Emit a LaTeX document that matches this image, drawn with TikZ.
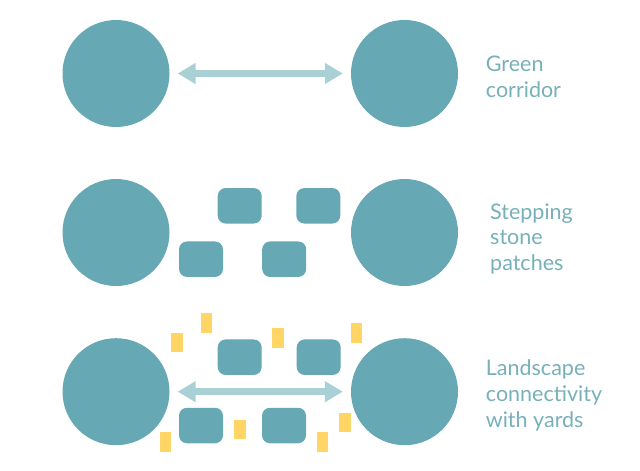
\documentclass[tikz,border=0pt]{standalone}
\usepackage{fontspec}
\setmainfont{Lato}
\usetikzlibrary{arrows.meta}
\definecolor{teal1}{RGB}{102,168,179}
\definecolor{arrowc}{RGB}{168,208,213}
\definecolor{yel}{RGB}{255,214,102}
\definecolor{txt}{RGB}{118,176,185}
\tikzset{
  core/.style={circle,fill=teal1,minimum size=107pt,inner sep=0pt},
  patch/.style={rectangle,fill=teal1,rounded corners=8pt,minimum width=44pt,minimum height=35.5pt,inner sep=0pt},
  yard/.style={rectangle,fill=yel,minimum width=11.5pt,minimum height=19.5pt,inner sep=0pt},
  corr/.style={draw=arrowc,line width=7pt,{Triangle[length=18pt,width=20pt]}-{Triangle[length=18pt,width=20pt]},shorten <=8pt,shorten >=8pt},
  lab/.style={anchor=base west,align=left,inner sep=0pt,text=txt,font=\fontsize{21.5}{25.7}\selectfont}
}
\begin{document}
\begin{tikzpicture}[x=1pt,y=-1pt]
\useasboundingbox (0,0) rectangle (640,471);
% row 1
\node[core] (L1) at (116,73.5) {};
\node[core] (R1) at (404.5,73.5) {};
\draw[corr] (L1) -- (R1);
\node[lab] (T1) at (485.7,97.3) {Green\\corridor};
% row 2
\node[core] (L2) at (116,232.5) {};
\node[core] (R2) at (404.5,232.5) {};
\node[patch] (P2a) at (239.7,205.8) {};
\node[patch] (P2b) at (318.3,205.8) {};
\node[patch] (P2c) at (201,259.2) {};
\node[patch] (P2d) at (284.2,259.2) {};
\node[lab] (T2) at (490,270.5) {Stepping\\stone\\patches};
% row 3
\node[core] (L3) at (116,391.7) {};
\node[core] (R3) at (404.5,391.7) {};
\node[patch] (P3a) at (239.7,357.2) {};
\node[patch] (P3b) at (318.7,357.2) {};
\node[patch] (P3c) at (201,425.5) {};
\node[patch] (P3d) at (284,425.5) {};
\node[yard] (Y1) at (177.2,342.7) {};
\node[yard] (Y2) at (206.5,322.8) {};
\node[yard] (Y3) at (278.2,338) {};
\node[yard] (Y4) at (356.5,333) {};
\node[yard] (Y5) at (165.7,442.2) {};
\node[yard] (Y6) at (239.8,429.3) {};
\node[yard] (Y7) at (322.5,442.2) {};
\node[yard] (Y8) at (345.2,422.5) {};
\draw[corr] (L3) -- (R3);
\node[lab] (T3) at (485.7,427.3) {Landscape\\connectivity\\with yards};
\end{tikzpicture}
\end{document}
